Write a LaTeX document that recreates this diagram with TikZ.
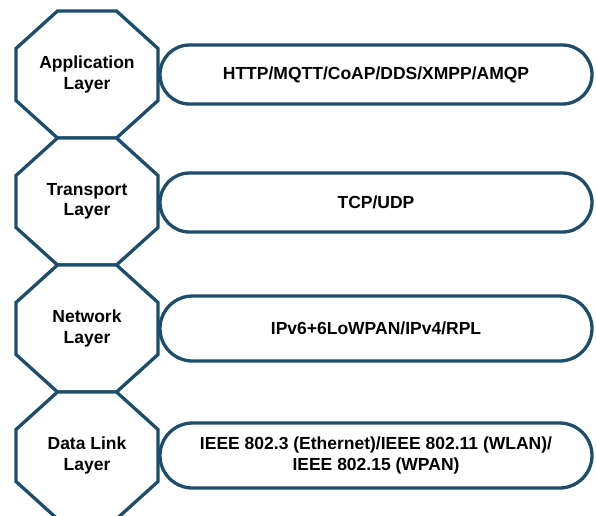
\documentclass[tikz,border=0pt]{standalone}
\usepackage{fontspec}
\setmainfont{Liberation Sans}
\usetikzlibrary{shapes.misc}
\definecolor{edgeblue}{RGB}{28,77,109}
\begin{document}
\begin{tikzpicture}[x=1pt,y=-1pt,
  octa/.pic={\draw[edgeblue, line width=3.3pt, fill=white, line join=miter]
    (-29.5,-63.5) -- (29.5,-63.5) -- (71,-26) -- (71,26) -- (29.5,63.5)
    -- (-29.5,63.5) -- (-71,26) -- (-71,-26) -- cycle;},
  layer/.style={inner sep=0pt,
    font=\bfseries\fontsize{17.5}{20.5}\selectfont, align=center},
  proto/.style={rounded rectangle, minimum width=432pt, inner sep=0pt,
    draw=edgeblue, line width=3.3pt, fill=white,
    font=\bfseries\fontsize{17.5}{21}\selectfont, align=center}]
\useasboundingbox (0,0) rectangle (596,515);
\pic at (87,74.5) {octa};
\pic at (87,201.5) {octa};
\pic at (87,328.5) {octa};
\pic at (87,455.5) {octa};
\node[layer] (app) at (87,74.5) {Application\\Layer};
\node[layer] (trans) at (87,201.5) {Transport\\Layer};
\node[layer] (net) at (87,328.5) {Network\\Layer};
\node[layer] (link) at (87,455.5) {Data Link\\Layer};
\node[proto, minimum height=59pt] (p1) at (376,74.5) {HTTP/MQTT/CoAP/DDS/XMPP/AMQP};
\node[proto, minimum height=59pt] (p2) at (376,202.5) {TCP/UDP};
\node[proto, minimum height=65pt] (p3) at (376,328.5) {IPv6+6LoWPAN/IPv4/RPL};
\node[proto, minimum height=65pt] (p4) at (376,455.5) {IEEE 802.3 (Ethernet)/IEEE 802.11 (WLAN)/\\IEEE 802.15 (WPAN)};
\end{tikzpicture}
\end{document}
